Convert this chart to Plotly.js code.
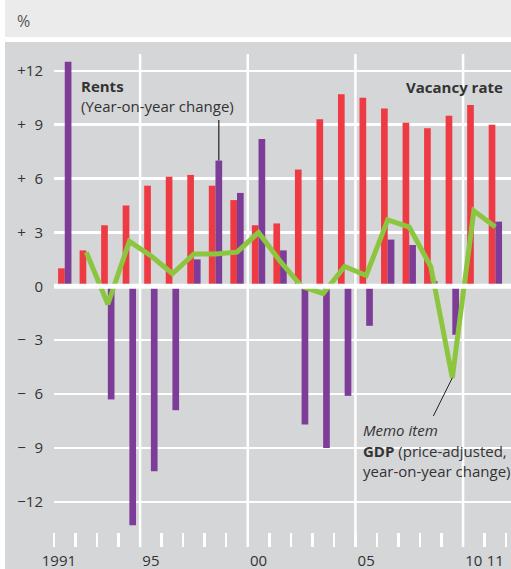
<!DOCTYPE html>
<html>
<head>
<meta charset="utf-8">
<script src="https://cdn.plot.ly/plotly-3.0.1.min.js"></script>
<style>html,body{margin:0;padding:0;background:#fff;}#chart{width:511px;height:569px;}</style>
</head>
<body>
<div id="chart"></div>
<script>
// ---- data ----
const years = [1991,1992,1993,1994,1995,1996,1997,1998,1999,2000,2001,2002,2003,2004,2005,2006,2007,2008,2009,2010,2011];
const vacancyRate = [1.0,2.0,3.4,4.5,5.6,6.1,6.2,5.6,4.8,3.4,3.5,6.5,9.3,10.7,10.5,9.9,9.1,8.8,9.5,10.1,9.0];
const rents = [12.5,-0.1,-6.3,-13.3,-10.3,-6.9,1.5,7.0,5.2,8.2,2.0,-7.7,-9.0,-6.1,-2.2,2.6,2.3,0.3,-2.7,-0.1,3.6];
const gdpYears = [1992,1993,1994,1995,1996,1997,1998,1999,2000,2001,2002,2003,2004,2005,2006,2007,2008,2009,2010,2011];
const gdp = [1.9,-1.0,2.5,1.7,0.7,1.8,1.8,1.9,3.0,1.4,0.0,-0.4,1.1,0.6,3.7,3.3,1.1,-5.1,4.2,3.3];
const yTickVals = [12,9,6,3,0,-3,-6,-9,-12];
const yTickText = ['+12','+\u20079','+\u20076','+\u20073','0','\u2212\u20073','\u2212\u20076','\u2212\u20079','\u221212'];
const xLabelVals = [1990.73,1995,2000,2005,2010,2011];
const xLabelText = ['1991','95','00','05','10','11'];
const yearBounds = [];
for (let i = 0; i < years.length; i++) yearBounds.push(years[i] - 0.5);
yearBounds.push(years[years.length-1] + 0.5);
const majorBounds = [1994.5,1999.5,2004.5,2009.5];

// ---- layout helpers ----
const W = 511, H = 569, L = 54, R = 0, T = 54, B = 22;
const PW = W - L - R, PH = H - T - B;
const px = x => (x - L) / PW;
const py = y => (H - B - y) / PH;

const RED = '#ee3a43', PURPLE = '#7d3c98', GREEN = '#8cc63f';
const BG = '#d5d6d8', BAND = '#ebebec', TXT = '#333333';
const FONT = 'Open Sans, Noto Sans, sans-serif';
const FS = 15;

const traces = [
  {type:'bar', x: years, y: vacancyRate, marker:{color: RED, line:{width:0}}, hoverinfo:'skip', name:'Vacancy rate'},
  {type:'bar', x: years, y: rents, marker:{color: PURPLE, line:{width:0}}, hoverinfo:'skip', name:'Rents'},
  {type:'scatter', mode:'lines', x: gdpYears, y: gdp, line:{color: GREEN, width:5}, hoverinfo:'skip', name:'GDP'}
];

const shapes = [
  {type:'rect', xref:'paper', yref:'paper', x0:px(0), x1:px(W), y0:py(42), y1:py(0), fillcolor:'#ffffff', line:{width:0}, layer:'below'},
  {type:'rect', xref:'paper', yref:'paper', x0:px(0), x1:px(5), y0:py(H), y1:py(0), fillcolor:'#ffffff', line:{width:0}, layer:'below'},
  {type:'rect', xref:'paper', yref:'paper', x0:px(5), x1:px(W), y0:py(37), y1:py(0), fillcolor:BAND, line:{width:0}, layer:'below'},
  {type:'line', xref:'paper', yref:'y', x0:0, x1:1, y0:0, y1:0, line:{color:'#ffffff', width:5}, layer:'above'},
  // pointers
  {type:'line', xref:'x', yref:'y', x0:1998.155, x1:1998.155, y0:7.0, y1:9.26, line:{color:'#222', width:1.2}},
  {type:'line', xref:'x', yref:'y', x0:2009, x1:2008.12, y0:-5.1, y1:-7.22, line:{color:'#222', width:1}}
];
majorBounds.forEach(b => shapes.push({type:'line', xref:'x', yref:'paper', x0:b, x1:b, y0:0, y1:1, line:{color:'#ffffff', width:2.5}, layer:'below'}));

const ann = (x, y, text, xanchor, extra) => Object.assign({xref:'paper', yref:'paper', x:px(x), y:py(y), text, xanchor, yanchor:'middle', align:'left', showarrow:false, font:{family:FONT, size:FS, color:TXT}}, extra||{});

const annotations = [
  ann(15, 21, '%', 'left', {font:{family:FONT, size:16, color:'#555'}}),
  ann(79, 96, '<b>Rents</b><br>(Year-on-year change)', 'left'),
  ann(505, 87, '<b>Vacancy rate</b>', 'right'),
  ann(361, 430, '<i>Memo item</i>', 'left'),
  ann(361, 461, '<b>GDP</b> (price-adjusted,<br>year-on-year change)', 'left')
];

const layout = {
  width: W, height: H,
  margin: {l:L, r:R, t:T, b:B, pad:0},
  paper_bgcolor: BG, plot_bgcolor: BG,
  showlegend: false,
  barmode: 'group', bargap: 0.38, bargroupgap: 0,
  font: {family: FONT, size: FS, color: TXT},
  xaxis: {
    range: [1990.5, 1990.5 + PW/21.53], fixedrange: true,
    tickmode: 'array', tickvals: xLabelVals, ticktext: xLabelText,
    ticks: '', showgrid: false, zeroline: false, showline: false,
    tickfont: {family: FONT, size: FS, color: TXT},
    ticklabelstandoff: 3,
    minor: {tickmode:'array', tickvals: yearBounds, ticks:'inside', ticklen:14, tickwidth:2.5, tickcolor:'#ffffff', showgrid:false}
  },
  yaxis: {
    range: [-(547-286.3)/17.96, (286.3-54)/17.96], fixedrange: true,
    tickmode: 'array', tickvals: yTickVals, ticktext: yTickText,
    ticks: '', showgrid: true, gridcolor: '#ffffff', gridwidth: 2.5,
    zeroline: false, showline: false,
    tickfont: {family: FONT, size: FS, color: TXT},
    ticklabelstandoff: 10
  },
  shapes, annotations
};

Plotly.newPlot('chart', traces, layout, {staticPlot: true, displayModeBar: false});
</script>
</body>
</html>
